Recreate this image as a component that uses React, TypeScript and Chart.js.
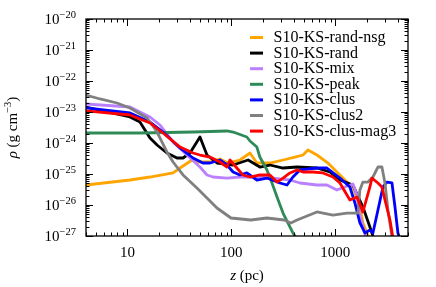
import React, { useEffect, useRef } from "react";
import { Chart, registerables } from "chart.js";

Chart.register(...registerables);

// ---- data (z in pc, rho in g cm^-3) ----
const seriesNames = [
  "S10-KS-rand-nsg",
  "S10-KS-rand",
  "S10-KS-mix",
  "S10-KS-peak",
  "S10-KS-clus",
  "S10-KS-clus2",
  "S10-KS-clus-mag3",
];
const seriesColors = ["#FFA500", "#000000", "#BB80FF", "#2E8B57", "#0000FF", "#808080", "#FF0000"];

const randNsgZ = [4.0, 10.6, 16.5, 27.5, 32.1, 41.8, 46.7, 62.3, 77.7, 92.7, 121, 151, 176, 235, 314, 409, 489, 545, 666, 849, 1107, 1322, 1476, 1724, 1842, 2014, 2105];
const randNsgRho = [4.42e-26, 6.4e-26, 8.0e-26, 1.08e-25, 1.56e-25, 2.83e-25, 2.44e-25, 2.44e-25, 3.05e-25, 2.26e-25, 2.83e-25, 4.76e-25, 2.26e-25, 2.26e-25, 2.83e-25, 3.53e-25, 4.1e-25, 5.95e-25, 4.1e-25, 2.26e-25, 9.3e-26, 5.13e-26, 3.81e-26, 8.6e-27, 2.63e-27, 1.25e-27, 8.6e-28];

const randZ = [4.0, 10.6, 13.2, 16.5, 19.3, 24.0, 30.0, 34.3, 40.0, 49.9, 58.3, 72.7, 104, 145, 188, 235, 314, 428, 666, 887, 1107, 1476, 1842, 2151, 2351];
const randRho = [1.45e-23, 6.9e-24, 4.75e-24, 1.45e-24, 8.6e-25, 4.76e-25, 3.28e-25, 3.28e-25, 4.76e-25, 1.56e-24, 4.1e-25, 2.26e-25, 1.95e-25, 2.83e-25, 1.68e-25, 1.95e-25, 1.56e-25, 1.68e-25, 1.56e-25, 1.16e-25, 6.4e-26, 4.42e-26, 8.6e-27, 1.95e-27, 8.0e-28];

const mixZ = [4.0, 10.6, 16.5, 20.6, 27.5, 37.4, 49.9, 58.3, 66.6, 90.7, 121, 176, 251, 366, 457, 666, 830, 1036, 1158, 1476, 1614, 1724, 1884, 1969];
const mixRho = [1.81e-23, 1.45e-23, 6.9e-24, 3.81e-24, 1.08e-24, 4.1e-25, 1.68e-25, 9.3e-26, 8.0e-26, 7.4e-26, 8.0e-26, 8.0e-26, 7.4e-26, 6.4e-26, 5.13e-26, 4.42e-26, 4.42e-26, 3.05e-26, 3.53e-26, 4.75e-26, 2.1e-26, 4.75e-27, 1.56e-27, 8.6e-28];

const peakZ = [4.0, 13.2, 42.8, 90.7, 104, 141, 151, 176, 188, 220, 246, 275, 314, 391, 428];
const peakRho = [2.1e-24, 2.1e-24, 2.26e-24, 2.44e-24, 2.26e-24, 1.56e-24, 1.16e-24, 7.4e-25, 3.53e-25, 1.35e-25, 5.13e-26, 1.81e-26, 5.5e-27, 1.25e-27, 8.0e-28];

const clusZ = [4.0, 10.6, 16.5, 22.0, 32.1, 42.8, 53.3, 62.3, 77.7, 90.7, 104, 121, 141, 176, 220, 293, 343, 391, 457, 666, 830, 1107, 1381, 1543, 1724, 1926, 2151, 2299, 2570, 2872, 3137, 3506, 3747, 4000, 4180];
const clusRho = [1.35e-23, 9.3e-24, 4.75e-24, 2.26e-24, 6.9e-25, 3.28e-25, 2.26e-25, 2.26e-25, 2.83e-25, 1.95e-25, 1.16e-25, 9.3e-26, 1.08e-25, 6.4e-26, 7.4e-26, 5.13e-26, 4.42e-26, 8.0e-26, 1.35e-25, 1.56e-25, 1.56e-25, 7.4e-26, 3.81e-26, 1.16e-26, 2.63e-27, 1.25e-27, 1.56e-27, 1.25e-27, 6.9e-27, 3.81e-26, 5.5e-26, 5.13e-26, 8.6e-27, 1.25e-27, 8.0e-28];

const clus2Z = [4.0, 5.46, 7.94, 10.6, 15.5, 19.3, 24.0, 27.5, 34.3, 46.7, 58.3, 72.7, 99.2, 154, 220, 321, 374, 428, 534, 666, 948, 1293, 1649, 1724, 1842, 2058, 2299, 2570, 2806, 3002, 3206, 3506];
const clus2Rho = [3.53e-23, 2.63e-23, 1.95e-23, 1.35e-23, 6.4e-24, 2.26e-24, 5.13e-25, 2.44e-25, 9.3e-26, 3.53e-26, 1.68e-26, 8.0e-27, 3.81e-27, 3.28e-27, 3.81e-27, 3.28e-27, 2.63e-27, 3.28e-27, 4.42e-27, 5.95e-27, 4.75e-27, 5.5e-27, 5.5e-27, 3.05e-26, 5.5e-26, 5.5e-26, 8.0e-26, 1.68e-25, 1.68e-25, 5.13e-26, 6.9e-27, 9.3e-28];

const clusMag3Z = [4.0, 10.6, 16.5, 22.0, 32.1, 42.8, 49.9, 62.3, 77.7, 90.7, 97.0, 113, 129, 151, 188, 235, 275, 314, 366, 428, 489, 610, 760, 948, 1107, 1381, 1614, 1842, 2151, 2249, 2570, 2806, 3002, 3353, 3584];
const clusMag3Rho = [1.08e-23, 8.0e-24, 4.42e-24, 2.1e-24, 7.4e-25, 4.76e-25, 4.1e-25, 3.53e-25, 2.44e-25, 1.68e-25, 2.83e-25, 1.56e-25, 9.3e-26, 8.0e-26, 9.3e-26, 9.3e-26, 5.5e-26, 7.4e-26, 1.08e-25, 1.35e-25, 1.16e-25, 1.16e-25, 1.08e-25, 8.0e-26, 5.13e-26, 1.45e-26, 1.81e-26, 5.95e-27, 3.81e-26, 7.4e-26, 5.13e-26, 3.81e-26, 1.45e-26, 3.28e-27, 8.6e-28];

const seriesZ = [randNsgZ, randZ, mixZ, peakZ, clusZ, clus2Z, clusMag3Z];
const seriesRho = [randNsgRho, randRho, mixRho, peakRho, clusRho, clus2Rho, clusMag3Rho];

const xMin = 4;
const xMax = 5000;
const yMin = 1e-27;
const yMax = 1e-20;
const xTickValues = [10, 100, 1000];
const xTickLabels = ["10", "100", "1000"];
const yTickExponents = [-20, -21, -22, -23, -24, -25, -26, -27];

const FONT = "'Liberation Serif', 'Times New Roman', serif";

const axesPlugin = {
  id: "mplAxes",
  afterDraw(chart: any) {
    const { ctx, chartArea: a } = chart;
    const xs = chart.scales.x;
    const ys = chart.scales.y;
    ctx.save();
    ctx.strokeStyle = "#000";
    ctx.fillStyle = "#000";

    // frame
    ctx.lineWidth = 1.3;
    ctx.strokeRect(a.left, a.top, a.right - a.left, a.bottom - a.top);

    // ticks
    ctx.lineWidth = 1;
    const line = (x1: number, y1: number, x2: number, y2: number) => {
      ctx.beginPath();
      ctx.moveTo(x1, y1);
      ctx.lineTo(x2, y2);
      ctx.stroke();
    };
    for (let d = -1; d <= 5; d++) {
      for (let m = 1; m <= 9; m++) {
        const v = m * Math.pow(10, d);
        if (v < xMin * 0.999 || v > xMax * 1.001) continue;
        const px = Math.round(xs.getPixelForValue(v)) + 0.5;
        const len = m === 1 ? 7 : 3.5;
        line(px, a.bottom, px, a.bottom - len);
        line(px, a.top, px, a.top + len);
      }
    }
    for (let d = -28; d <= -20; d++) {
      for (let m = 1; m <= 9; m++) {
        const v = m * Math.pow(10, d);
        if (v < yMin * 0.999 || v > yMax * 1.001) continue;
        const py = Math.round(ys.getPixelForValue(v)) + 0.5;
        const len = m === 1 ? 7 : 3.5;
        line(a.left, py, a.left + len, py);
        line(a.right, py, a.right - len, py);
      }
    }

    // x tick labels
    ctx.font = `15px ${FONT}`;
    ctx.textAlign = "center";
    ctx.textBaseline = "alphabetic";
    xTickValues.forEach((v, i) => {
      ctx.fillText(xTickLabels[i], xs.getPixelForValue(v), a.bottom + 21);
    });

    // y tick labels: 10^{e}
    ctx.textAlign = "left";
    yTickExponents.forEach((e) => {
      const py = ys.getPixelForValue(Math.pow(10, e));
      const sup = "\u2212" + String(Math.abs(e));
      ctx.font = `10.5px ${FONT}`;
      const supW = ctx.measureText(sup).width;
      ctx.font = `15px ${FONT}`;
      const baseW = ctx.measureText("10").width;
      const right = a.left - 10;
      ctx.fillText("10", right - supW - baseW, py + 5);
      ctx.font = `10.5px ${FONT}`;
      ctx.fillText(sup, right - supW, py - 1.5);
    });

    // x title: z (pc)
    {
      ctx.font = `italic 15px ${FONT}`;
      const w1 = ctx.measureText("z").width;
      ctx.font = `15px ${FONT}`;
      const w2 = ctx.measureText(" (pc)").width;
      const cx = (a.left + a.right) / 2;
      const start = cx - (w1 + w2) / 2;
      const by = a.bottom + 44;
      ctx.font = `italic 15px ${FONT}`;
      ctx.fillText("z", start, by);
      ctx.font = `15px ${FONT}`;
      ctx.fillText(" (pc)", start + w1, by);
    }

    // y title: rho (g cm^-3)
    {
      ctx.save();
      ctx.translate(a.left - 69, (a.top + a.bottom) / 2);
      ctx.rotate(-Math.PI / 2);
      const parts = [
        { t: "\u03C1", f: `italic 15px ${FONT}`, dy: 0 },
        { t: " (g cm", f: `15px ${FONT}`, dy: 0 },
        { t: "\u22123", f: `10.5px ${FONT}`, dy: -6.5 },
        { t: ")", f: `15px ${FONT}`, dy: 0 },
      ];
      let total = 0;
      const widths = parts.map((p) => {
        ctx.font = p.f;
        const w = ctx.measureText(p.t).width;
        total += w;
        return w;
      });
      let xx = -total / 2;
      parts.forEach((p, i) => {
        ctx.font = p.f;
        ctx.fillText(p.t, xx, p.dy);
        xx += widths[i];
      });
      ctx.restore();
    }

    // legend
    ctx.font = `16px ${FONT}`;
    ctx.textAlign = "left";
    seriesNames.forEach((name, i) => {
      const cy = a.top + 18.5 + i * 15.6;
      ctx.strokeStyle = seriesColors[i];
      ctx.lineWidth = 3;
      line(a.right - 158, cy, a.right - 145, cy);
      ctx.fillStyle = "#000";
      ctx.fillText(name, a.right - 134.5, cy + 4.5);
    });

    ctx.restore();
  },
};

export default function App() {
  const ref = useRef<HTMLCanvasElement | null>(null);

  useEffect(() => {
    if (!ref.current) return;
    const datasets = seriesNames.map((name, i) => ({
      label: name,
      data: seriesZ[i].map((z, j) => ({ x: z, y: seriesRho[i][j] })),
      borderColor: seriesColors[i],
      backgroundColor: seriesColors[i],
      borderWidth: 2.8,
      pointRadius: 0,
      tension: 0,
      fill: false,
      clip: 0,
      order: seriesNames.length - i,
      borderJoinStyle: "round" as const,
      borderCapStyle: "butt" as const,
    }));
    const chart = new Chart(ref.current, {
      type: "line",
      data: { datasets },
      options: {
        animation: false,
        responsive: false,
        devicePixelRatio: 1,
        parsing: false as any,
        layout: { padding: { left: 86, top: 19, right: 28, bottom: 51 } },
        plugins: { legend: { display: false }, tooltip: { enabled: false }, title: { display: false } },
        events: [],
        scales: {
          x: { type: "logarithmic", min: xMin, max: xMax, display: false },
          y: { type: "logarithmic", min: yMin, max: yMax, display: false },
        },
      },
      plugins: [axesPlugin],
    });
    return () => chart.destroy();
  }, []);

  return (
    <div style={{ position: "fixed", left: 0, top: 0, width: 436, height: 287, background: "#fff" }}>
      <canvas ref={ref} width={436} height={287} style={{ width: 436, height: 287, display: "block" }} />
    </div>
  );
}
